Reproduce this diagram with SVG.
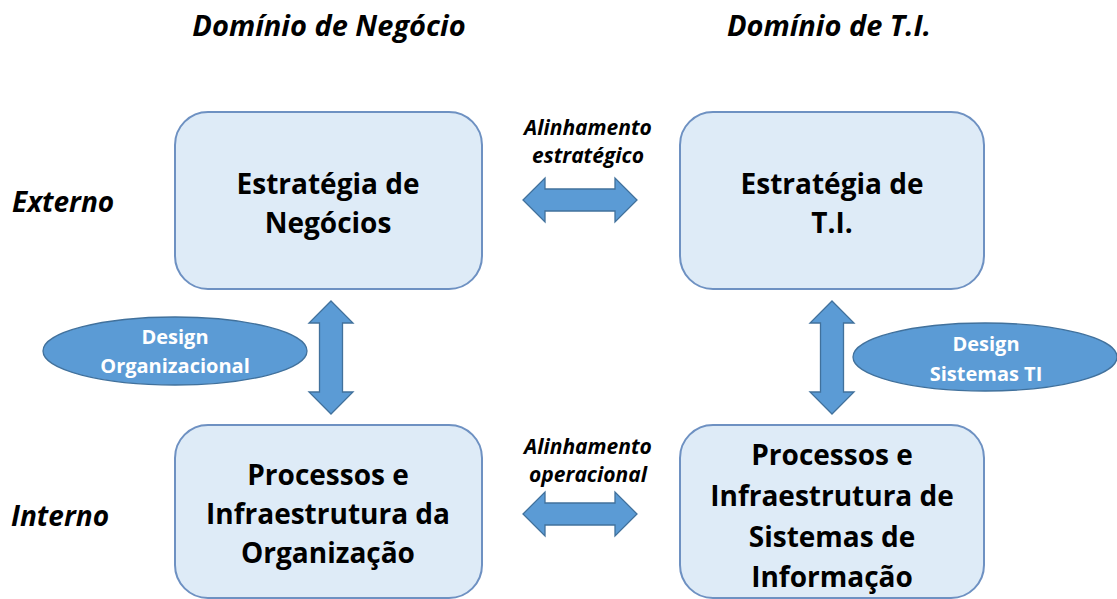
<svg xmlns="http://www.w3.org/2000/svg" width="1117" height="599" viewBox="0 0 1117 599">
  <style>
    .box { fill: #DEEBF7; stroke: #6E91C2; stroke-width: 2; }
    .arrow { fill: #5B9BD5; stroke: #41719C; stroke-width: 1.3; }
    .oval { fill: #5B9BD5; stroke: #41719C; stroke-width: 1.3; }
    .head { font-family: "Open Sans", "Liberation Sans", sans-serif; font-weight: bold; font-style: italic; font-size: 29px; fill: #000; }
    .side { font-family: "Open Sans", "Liberation Sans", sans-serif; font-weight: bold; font-style: italic; font-size: 28px; fill: #000; }
    .align { font-family: "Open Sans", "Liberation Sans", sans-serif; font-weight: bold; font-style: italic; font-size: 21px; fill: #000; text-anchor: middle; }
    .btxt { font-family: "Open Sans", "Liberation Sans", sans-serif; font-weight: bold; font-size: 28px; fill: #000; text-anchor: middle; }
    .otxt { font-family: "Open Sans", "Liberation Sans", sans-serif; font-weight: bold; font-size: 20px; fill: #FFFFFF; text-anchor: middle; }
  </style>
  <rect width="1117" height="599" fill="#FFFFFF"/>

  <g id="headers">
    <text class="head" x="329" y="36" text-anchor="middle">Domínio de Negócio</text>
    <text class="head" x="829" y="36" text-anchor="middle">Domínio de T.I.</text>
    <text class="side" x="12" y="212">Externo</text>
    <text class="side" x="11" y="526">Interno</text>
  </g>

  <g id="connectors">
    <path class="arrow" d="M523,200 L545,178 L545,189 L615,189 L615,178 L637,200 L615,222 L615,211 L545,211 L545,222 Z"/>
    <path class="arrow" d="M523,514 L545,492 L545,503 L615,503 L615,492 L637,514 L615,536 L615,525 L545,525 L545,536 Z"/>
    <path class="arrow" d="M331,301 L353,323 L342.5,323 L342.5,392 L353,392 L331,414 L309,392 L319.5,392 L319.5,323 L309,323 Z"/>
    <path class="arrow" d="M832,301 L854,323 L843.5,323 L843.5,392 L854,392 L832,414 L810,392 L820.5,392 L820.5,323 L810,323 Z"/>
    <text class="align" x="588" y="135">Alinhamento</text>
    <text class="align" x="588" y="163">estratégico</text>
    <text class="align" x="588" y="454">Alinhamento</text>
    <text class="align" x="588" y="482">operacional</text>
  </g>

  <g id="estrategia-negocios">
    <rect class="box" x="175" y="112" width="307" height="177" rx="33" ry="33"/>
    <text class="btxt" x="328" y="194">Estratégia de</text>
    <text class="btxt" x="328" y="233">Negócios</text>
  </g>

  <g id="estrategia-ti">
    <rect class="box" x="680" y="112" width="304" height="177" rx="33" ry="33"/>
    <text class="btxt" x="832" y="194">Estratégia de</text>
    <text class="btxt" x="832" y="233">T.I.</text>
  </g>

  <g id="processos-organizacao">
    <rect class="box" x="175" y="425" width="307" height="173" rx="33" ry="33"/>
    <text class="btxt" x="328" y="485">Processos e</text>
    <text class="btxt" x="328" y="524">Infraestrutura da</text>
    <text class="btxt" x="328" y="563">Organização</text>
  </g>

  <g id="processos-si">
    <rect class="box" x="680" y="425" width="304" height="173" rx="33" ry="33"/>
    <text class="btxt" x="832" y="465">Processos e</text>
    <text class="btxt" x="832" y="506">Infraestrutura de</text>
    <text class="btxt" x="832" y="547">Sistemas de</text>
    <text class="btxt" x="832" y="587">Informação</text>
  </g>

  <g id="design-organizacional">
    <ellipse class="oval" cx="175" cy="351" rx="132" ry="34"/>
    <text class="otxt" x="175" y="344">Design</text>
    <text class="otxt" x="175" y="373">Organizacional</text>
  </g>

  <g id="design-sistemas-ti">
    <ellipse class="oval" cx="985" cy="357" rx="132" ry="34"/>
    <text class="otxt" x="986" y="351">Design</text>
    <text class="otxt" x="986" y="381">Sistemas TI</text>
  </g>
</svg>
